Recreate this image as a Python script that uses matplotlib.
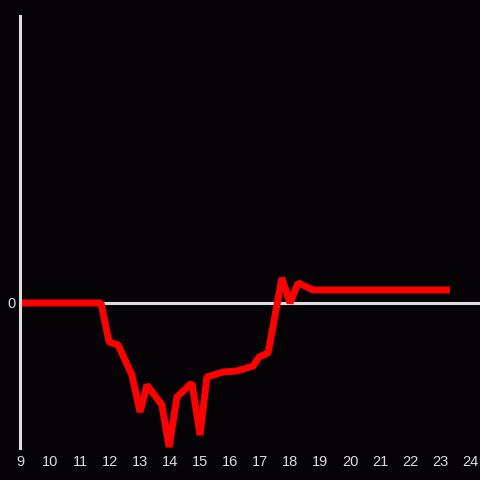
import matplotlib
matplotlib.use("Agg")
import matplotlib.pyplot as plt

# series (hours vs. value, arbitrary units)
hours = [9.0, 11.7, 11.97, 12.27, 12.73, 13.0, 13.23, 13.73, 13.97, 14.23,
         14.73, 15.0, 15.23, 15.77, 16.23, 16.77, 16.97, 17.27, 17.73, 18.0,
         18.27, 18.77, 23.33]
values = [0.0, 0.0, -3.9, -4.2, -7.2, -10.9, -8.2, -10.2, -14.4, -9.4,
          -8.0, -13.2, -7.4, -6.9, -6.8, -6.3, -5.4, -5.0, 2.5, 0.0,
          2.0, 1.3, 1.3]
xticks = list(range(9, 25))

BG = "#050306"
FG = "#dddddd"

plt.rcParams["font.family"] = ["Liberation Sans", "DejaVu Sans"]

fig = plt.figure(figsize=(4.8, 4.8), dpi=100, facecolor=BG)
ax = fig.add_axes([20 / 480, 32 / 480, 460 / 480, 432 / 480])
ax.set_facecolor(BG)

ax.axhline(0, color=FG, lw=2.2, zorder=1)
ax.plot(hours, values, color="#ff0000", lw=5, solid_joinstyle="bevel",
        solid_capstyle="butt", zorder=2)

ax.set_xlim(9, 24.333)
ax.set_ylim(-14.5, 28.7)
ax.set_xticks(xticks)
ax.set_yticks([0])

for s in ["top", "right", "bottom"]:
    ax.spines[s].set_visible(False)
ax.spines["left"].set_color(FG)
ax.spines["left"].set_linewidth(2.2)

ax.tick_params(axis="both", length=0, colors=FG, labelsize=10.5)
ax.tick_params(axis="x", pad=5)
ax.tick_params(axis="y", pad=3)

fig.savefig("out.png", dpi=100, facecolor=BG)
plt.close(fig)
